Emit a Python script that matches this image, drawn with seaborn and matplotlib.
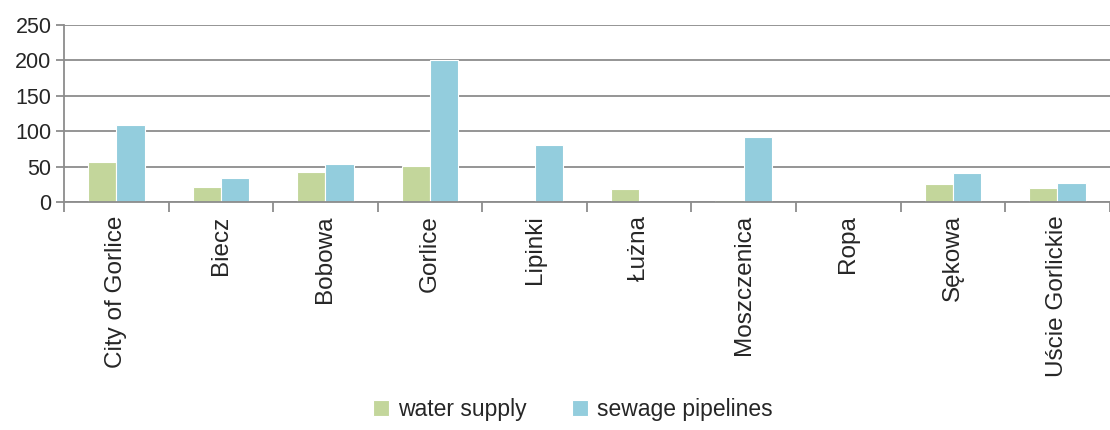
import pandas as pd
import numpy as np
import matplotlib
matplotlib.use("Agg")
import matplotlib.pyplot as plt
import seaborn as sns

gminy = ["City of Gorlice", "Biecz", "Bobowa", "Gorlice", "Lipinki", "Łużna",
         "Moszczenica", "Ropa", "Sękowa", "Uście Gorlickie"]
water_supply = [57, 22, 43, 51, 0, 18, 3, 0, 26, 20]
sewage_pipelines = [109, 34, 54, 200, 80, 0, 92, 0, 41, 27]

df = pd.DataFrame({"gmina": gminy,
                   "water supply": water_supply,
                   "sewage pipelines": sewage_pipelines})
dane = df.melt(id_vars="gmina", var_name="typ", value_name="km")

sns.set_style("white")
plt.rcParams["font.family"] = ["Liberation Sans", "DejaVu Sans"]

fig = plt.figure(figsize=(11.1, 4.3), dpi=100)
ax = fig.add_axes([0.0577, 0.530, 0.942, 0.412])

sns.barplot(data=dane, x="gmina", y="km", hue="typ",
            palette=["#c3d69b", "#93cddd"], saturation=1, width=0.54,
            edgecolor="white", linewidth=0.8, ax=ax)

ax.set_ylim(0, 250)
ax.set_yticks(range(0, 251, 50))
ax.set_xlim(-0.5, len(gminy) - 0.5)
ax.grid(axis="y", color="#8c8c8c", linewidth=1.3)
ax.set_axisbelow(True)
for s in ["top", "right"]:
    ax.spines[s].set_visible(False)
for s in ["left", "bottom"]:
    ax.spines[s].set_color("#8c8c8c")
    ax.spines[s].set_linewidth(1.3)

ax.tick_params(axis="y", labelsize=15.5, left=True, length=6, color="#8c8c8c", width=1.3, pad=3)
ax.tick_params(axis="x", which="major", labelsize=17.5, bottom=False, rotation=90, pad=6)
ax.set_xticks(np.arange(-0.5, len(gminy), 1), minor=True)
ax.tick_params(axis="x", which="minor", bottom=True, length=7, color="#8c8c8c", width=1.3)
ax.set_xlabel("")
ax.set_ylabel("")

handles, labels = ax.get_legend_handles_labels()
ax.legend_.remove()
fig.legend(handles, labels, loc="center", bbox_to_anchor=(0.516, 0.047), ncol=2, frameon=False,
           fontsize=16.5, handlelength=0.7, handleheight=0.7, columnspacing=2.0,
           handletextpad=0.4)

fig.savefig("out.png", dpi=100)
